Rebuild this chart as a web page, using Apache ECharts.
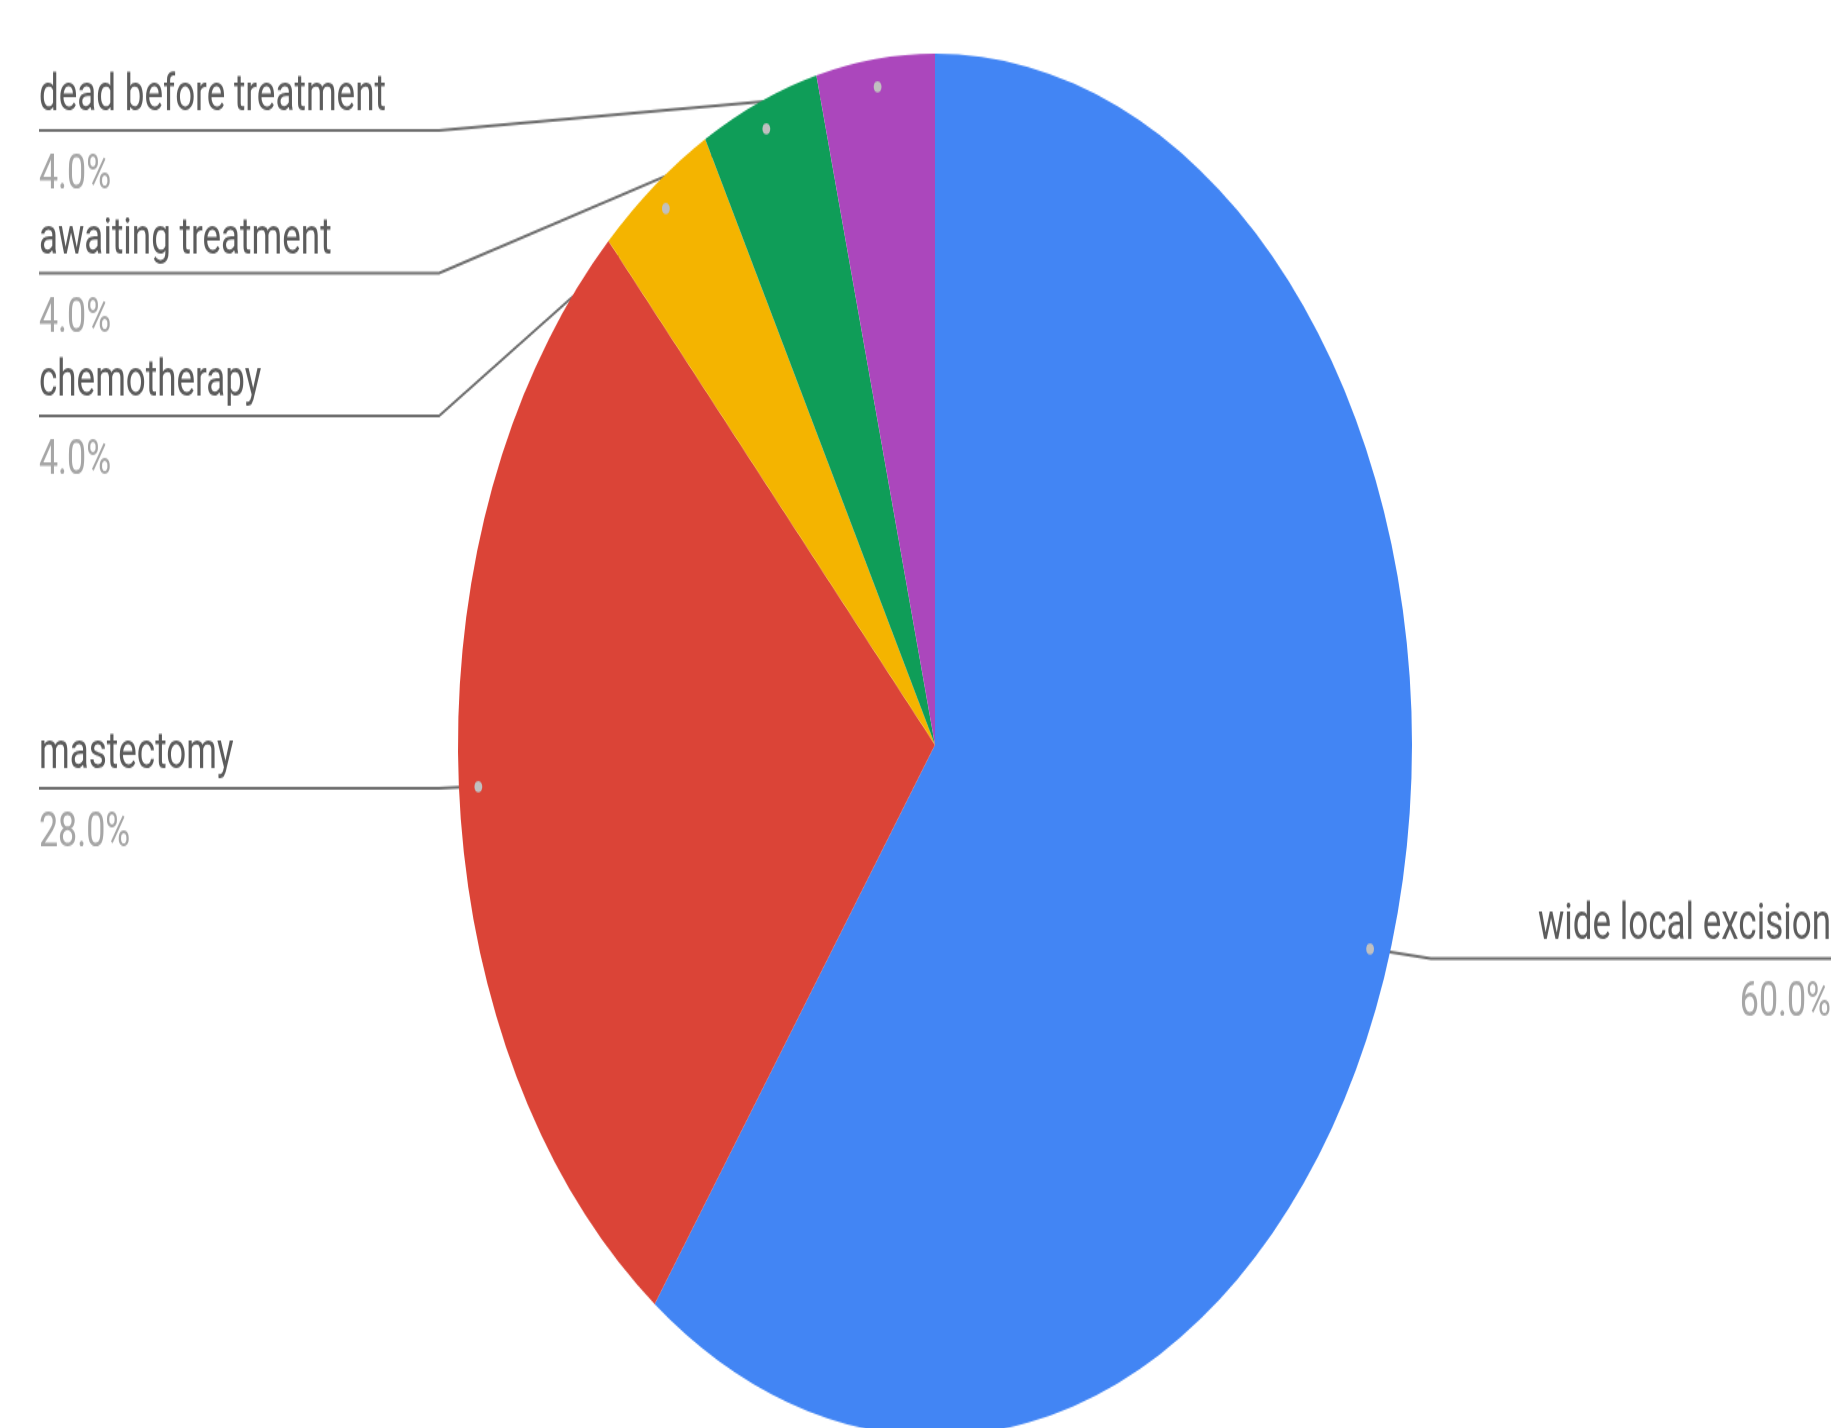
<!DOCTYPE html>
<html><head><meta charset="utf-8">
<script src="https://cdn.jsdelivr.net/npm/echarts@6/dist/echarts.min.js"></script>
<style>
html,body{margin:0;padding:0;overflow:hidden;background:#fff;width:1837px;height:1428px}
#wrap{position:absolute;left:0;top:0;width:1870px;height:986px;transform:scaleY(1.449);transform-origin:0 0}
#chart{width:1870px;height:986px}
</style></head><body>
<div id="wrap"><div id="chart"></div></div>
<script>
const categories = ['wide local excision', 'mastectomy', 'chemotherapy', 'awaiting treatment', 'dead before treatment'];
const counts = [15, 7, 1, 1, 1];
const colors = ['#4285F4', '#DB4437', '#F4B400', '#0F9D58', '#AB47BC'];

const W = 1870, H = 986, R = 477, CX = 935, CY = 514, TOP = 45;
const chart = echarts.init(document.getElementById('chart'), null, {renderer: 'canvas'});
const data = categories.map((n, i) => ({name: n, value: counts[i], itemStyle: {color: colors[i]}}));
const dotData = categories.map((n, i) => ({name: n, value: counts[i]}));

chart.setOption({
  animation: false,
  series: [{
    type: 'pie',
    left: 0, top: TOP, width: W, height: H - TOP,
    center: [CX, CY - TOP],
    radius: [0, R],
    startAngle: 90,
    clockwise: true,
    data: data,
    label: {
      show: true,
      alignTo: 'edge',
      edgeDistance: 39,
      minMargin: 10,
      fontFamily: 'Roboto',
      formatter: p => '{n|' + p.name + '}\n{p|' + p.percent.toFixed(1) + '%}',
      rich: {
        n: {fontSize: 35, lineHeight: 63, color: '#5c5c5c', fontFamily: 'Roboto'},
        p: {fontSize: 34, lineHeight: 45, color: '#a6a6a6', fontFamily: 'Roboto'}
      }
    },
    labelLine: {show: true, length: 0, length2: 20, lineStyle: {color: '#6e6e6e', width: 2}},
    labelLayout: function (params) {
      const pts = params.labelLinePoints;
      if (!pts) return {};
      const isLeft = params.labelRect.x < CX;
      const f = 0.953;
      const p0 = [CX + (pts[0][0] - CX) * f, CY + (pts[0][1] - CY) * f];
      const y = pts[2][1];
      const elbowX = isLeft ? CX - R - 19 : CX + R + 19;
      const endX = isLeft ? params.labelRect.x : params.labelRect.x + params.labelRect.width;
      return {labelLinePoints: [p0, [elbowX, y], [endX, y]]};
    }
  }, {
    type: 'pie',
    silent: true,
    left: 0, top: TOP, width: W, height: H - TOP,
    center: [CX, CY - TOP],
    radius: [R * 0.906, R],
    startAngle: 90,
    clockwise: true,
    data: dotData,
    itemStyle: {color: 'rgba(0,0,0,0)'},
    label: {show: true, position: 'inside', formatter: '\u25CF', fontSize: 18, color: '#c0c0c0'},
    labelLine: {show: false},
    z: 3
  }]
});
</script>
</body></html>
